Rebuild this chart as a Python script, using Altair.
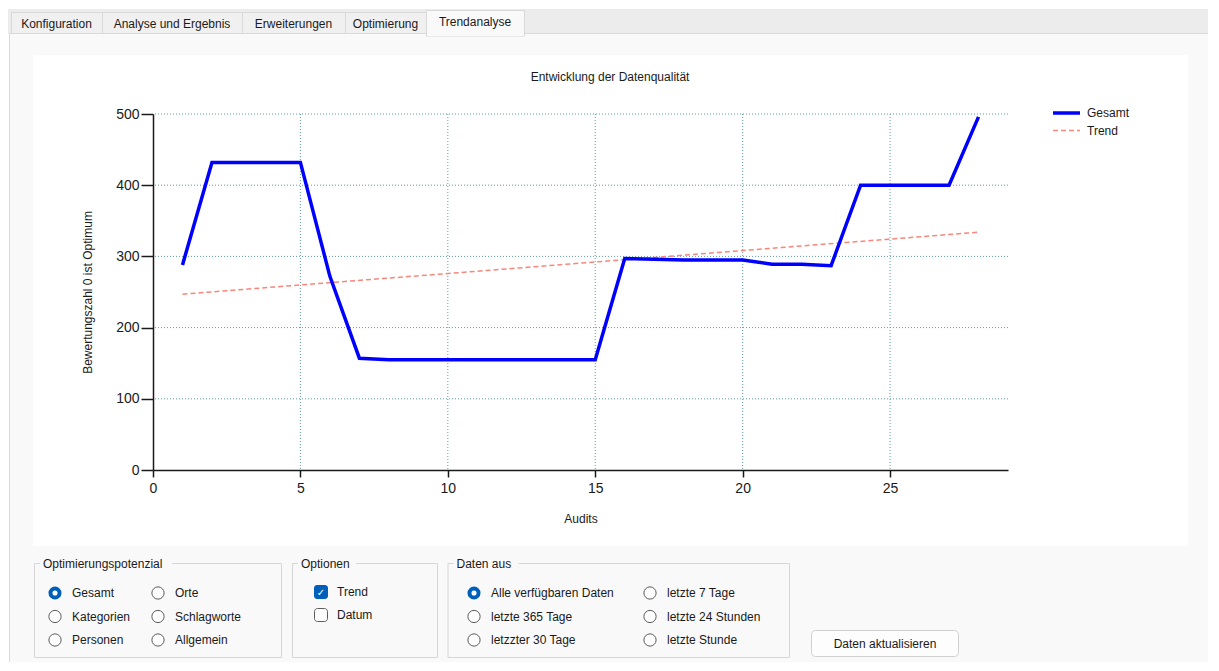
import altair as alt
import pandas as pd

# ---------------- data ----------------
audits = list(range(1, 29))
gesamt = [288, 432, 432, 432, 432, 272, 157, 155, 155, 155, 155, 155, 155, 155,
          155, 297, 296, 295, 295, 295, 289, 289, 287, 400, 400, 400, 400, 496]
trend_x = [1, 28]
trend_y = [247, 334]
x_ticks = [0, 5, 10, 15, 20, 25]
y_ticks = [0, 100, 200, 300, 400, 500]
series_names = ["Gesamt", "Trend"]
chart_title = "Entwicklung der Datenqualität"
x_title = "Audits"
y_title = "Bewertungszahl 0 ist Optimum"
tabs = ["Konfiguration", "Analyse und Ergebnis", "Erweiterungen", "Optimierung", "Trendanalyse"]
group_titles = ["Optimierungspotenzial", "Optionen", "Daten aus"]
opt_radios = [["Gesamt", "Kategorien", "Personen"], ["Orte", "Schlagworte", "Allgemein"]]
option_checks = ["Trend", "Datum"]
option_checked = [True, False]
daten_radios = [["Alle verfügbaren Daten", "letzte 365 Tage", "letzzter 30 Tage"],
                ["letzte 7 Tage", "letzte 24 Stunden", "letzte Stunde"]]
button_text = "Daten aktualisieren"

# ---------------- layout ----------------
OX, OY = 153, 114          # page position of plot origin
W, H = 855, 356
FONT = "Liberation Sans"
CANVAS_H = 654


def px(x):
    return x - OX


def py(y):
    return y - OY


one = pd.DataFrame({"_": [0]})


def rect(x1, y1, x2, y2, fill, stroke=None, sw=1.0, radius=0, fill_opacity=1.0):
    kw = dict(fill=fill, fillOpacity=fill_opacity, cornerRadius=radius)
    if stroke is not None:
        kw["stroke"] = stroke
        kw["strokeWidth"] = sw
    return alt.Chart(one).mark_rect(**kw).encode(
        x=alt.value(px(x1)), x2=alt.value(px(x2)),
        y=alt.value(py(y1)), y2=alt.value(py(y2)))


def text(x, y, s, size=12, color="#1a1a1a", align="left", font=FONT):
    return alt.Chart(one).mark_text(
        align=align, baseline="middle", font=font, fontSize=size, color=color
    ).encode(x=alt.value(px(x)), y=alt.value(py(y)), text=alt.value(s))


def dot(x, y, size, fill, stroke=None, sw=1.0):
    kw = dict(shape="circle", filled=True, fill=fill, opacity=1, size=size)
    if stroke is not None:
        kw["stroke"] = stroke
        kw["strokeWidth"] = sw
    return alt.Chart(one).mark_point(**kw).encode(x=alt.value(px(x)), y=alt.value(py(y)))


def hline(x1, x2, y, color, width=1.0, dash=None):
    kw = dict(color=color, strokeWidth=width)
    if dash is not None:
        kw["strokeDash"] = dash
    return alt.Chart(one).mark_rule(**kw).encode(
        x=alt.value(px(x1)), x2=alt.value(px(x2)), y=alt.value(py(y)))


layers = []

# window chrome
layers.append(rect(8, 9, 1219, 34, "#ececec"))
layers.append(rect(9.5, 33.5, 1216, 690, "#f9f9f9", stroke="#dadada"))
tab_edges = [11, 102, 242, 345, 426, 524]
for i, name in enumerate(tabs[:-1]):
    layers.append(rect(tab_edges[i] + 0.5, 12.5, tab_edges[i + 1] + 0.5, 33.5, "#f0f0f0", stroke="#d9d9d9"))
    layers.append(text((tab_edges[i] + tab_edges[i + 1]) / 2, 23.5, name, align="center"))
layers.append(rect(tab_edges[4] + 0.5, 10.5, tab_edges[5] + 0.5, 36, "#f9f9f9", stroke="#d9d9d9"))
layers.append(rect(tab_edges[4] + 1.5, 32, tab_edges[5] - 0.5, 36, "#f9f9f9"))
layers.append(text((tab_edges[4] + tab_edges[5]) / 2, 21.5, tabs[-1], align="center"))

# white chart panel
layers.append(rect(33, 55, 1188, 546, "#ffffff"))

# group boxes
boxes = [(34, 281), (292, 437), (447.5, 789)]
title_w = [128, 54, 61]
for (bx1, bx2), t, tw in zip(boxes, group_titles, title_w):
    layers.append(rect(bx1 + 0.5, 563.5, bx2 + 0.5, 657.5, "#f9f9f9", stroke="#d6d6d6", fill_opacity=0))
    layers.append(rect(bx1 + 6, 556, bx1 + 10 + tw, 570, "#f9f9f9"))
    layers.append(text(bx1 + 9, 563.5, t))

rows = [593, 616.5, 640]


def radio_group(cols_x, labels, selected):
    out = []
    for ci, cx in enumerate(cols_x):
        for ri, lab in enumerate(labels[ci]):
            y = rows[ri]
            if (ci, ri) == selected:
                out.append(dot(cx, y, 170, "#005fb8"))
                out.append(dot(cx, y, 26, "#ffffff"))
            else:
                out.append(dot(cx, y, 150, "#fdfdfd", stroke="#5c5c5c", sw=1))
            out.append(text(cx + 17, y, lab))
    return out


layers += radio_group([55, 158], opt_radios, (0, 0))
layers += radio_group([474, 650], daten_radios, (0, 0))

for i, (lab, chk) in enumerate(zip(option_checks, option_checked)):
    y = [592, 615][i]
    if chk:
        layers.append(rect(314, y - 7, 328, y + 7, "#005fb8", radius=3))
        layers.append(text(321, y + 0.5, "✓", size=10, color="#ffffff", align="center", font="DejaVu Sans"))
    else:
        layers.append(rect(314.5, y - 6.5, 327.5, y + 6.5, "#fdfdfd", stroke="#5c5c5c", radius=3))
    layers.append(text(337, y, lab))

layers.append(rect(811.5, 630.5, 958.5, 656.5, "#fdfdfd", stroke="#d0d0d0", radius=4))
layers.append(text(885, 643.5, button_text, align="center"))

# ---------------- chart ----------------
x_axis = alt.Axis(values=x_ticks, grid=False, title=x_title, titleX=W / 2, titleY=48,
                  titleBaseline="middle", titleFontSize=12, titleFontWeight="normal",
                  titleFont=FONT, titleColor="#1a1a1a", labelFlush=False,
                  labelFontSize=14, labelFont=FONT, labelColor="#1a1a1a", labelPadding=4,
                  tickSize=7, tickWidth=1.5, tickColor="#1a1a1a",
                  domainColor="#1a1a1a", domainWidth=1.5, zindex=1)
y_axis = alt.Axis(values=y_ticks, grid=False, title=y_title, titleX=-66, titleY=H / 2,
                  titleBaseline="middle", titleFontSize=12, titleFontWeight="normal",
                  titleFont=FONT, titleColor="#1a1a1a", labelFlush=False,
                  labelFontSize=14, labelFont=FONT, labelColor="#1a1a1a", labelPadding=2,
                  tickSize=12, tickWidth=1.5, tickColor="#1a1a1a",
                  domainColor="#1a1a1a", domainWidth=1.5, zindex=1)
xs = alt.Scale(domain=[0, 29], nice=False, zero=False)
ys = alt.Scale(domain=[0, 500], nice=False)
X = alt.X("audit:Q", scale=xs, axis=x_axis)
Y = alt.Y("wert:Q", scale=ys, axis=y_axis)

gx = pd.DataFrame({"audit": x_ticks[1:]})
gy = pd.DataFrame({"wert": y_ticks[1:]})
layers.append(alt.Chart(gx).mark_rule(color="#5f9ea0", strokeDash=[1, 2], strokeWidth=1).encode(x=X))
layers.append(alt.Chart(gy).mark_rule(color="#5f9ea0", strokeDash=[1, 2], strokeWidth=1).encode(y=Y))

df_trend = pd.DataFrame({"audit": trend_x, "wert": trend_y})
df_main = pd.DataFrame({"audit": audits, "wert": gesamt})
layers.append(alt.Chart(df_trend).mark_line(color="#f7877b", strokeDash=[5, 3], strokeWidth=1.5)
              .encode(x=X, y=Y))
layers.append(alt.Chart(df_main).mark_line(color="#0000ff", strokeWidth=3.5, strokeJoin="miter")
              .encode(x=X, y=Y))

# title and legend
layers.append(text(610, 77, chart_title, align="center"))
layers.append(hline(1053, 1080, 113, "#0000ff", width=3.5))
layers.append(text(1087, 113, series_names[0]))
layers.append(hline(1053, 1080, 130.5, "#f7877b", width=1.5, dash=[5, 3]))
layers.append(text(1087, 130.5, series_names[1]))

chart = alt.layer(*layers).properties(
    width=W, height=H,
    autosize=alt.AutoSizeParams(type="none"),
    padding={"left": OX - 8, "top": OY - 8, "right": 200, "bottom": CANVAS_H - (OY - 8) - H},
).configure(background="#ffffff").configure_view(stroke=None)

chart.save("out.html", embed_options={"renderer": "svg", "actions": False})
